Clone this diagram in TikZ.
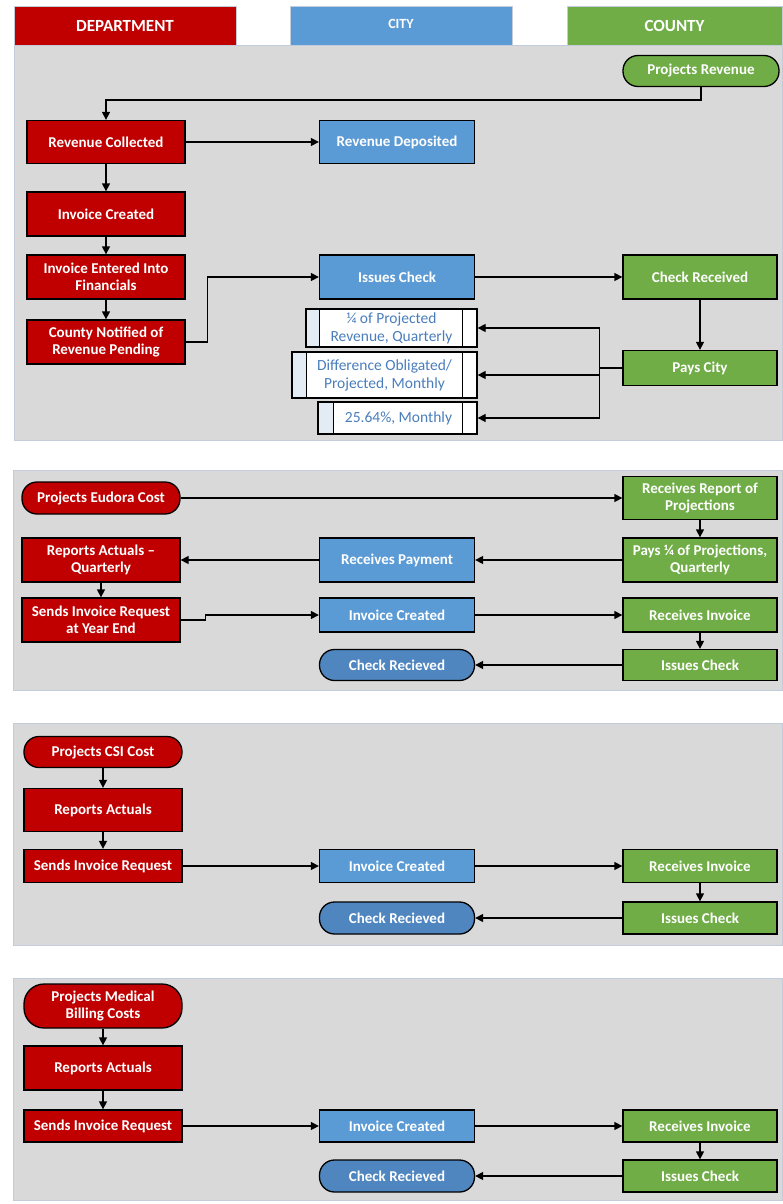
\documentclass[tikz,border=0pt]{standalone}
\usepackage{fontspec}
\setmainfont{Carlito}
\usetikzlibrary{arrows.meta,calc}
\definecolor{dred}{HTML}{C00000}
\definecolor{cblue}{HTML}{5B9BD5}
\definecolor{cgreen}{HTML}{70AD47}
\definecolor{pillblue}{HTML}{4F86C0}
\definecolor{panelgray}{HTML}{D9D9D9}
\definecolor{paneledge}{HTML}{C3CCDA}
\definecolor{txtblue}{HTML}{4A7EBB}
\definecolor{stripblue}{HTML}{E3EBF5}
\tikzset{
  box/.style={draw=black, line width=1.3pt, text=white, align=center, inner sep=0pt,
    font=\fontsize{15}{17}\selectfont\bfseries},
  deptbox/.style={box, fill=dred, minimum width=158pt},
  citybox/.style={box, fill=cblue, minimum width=155pt},
  cntybox/.style={box, fill=cgreen, minimum width=154pt},
  pill/.style={rounded corners=15pt},
  ppbox/.style={draw=black, line width=1.3pt, text=txtblue, align=center, inner sep=0pt,
    font=\fontsize{15.5}{18}\selectfont},
  hdr/.style={draw=paneledge, line width=0.6pt, text=white, inner sep=0pt,
    font=\fontsize{17}{19}\selectfont\bfseries},
  panel/.style={fill=panelgray, draw=paneledge, line width=0.8pt},
  arr/.style={draw=black, line width=1.3pt, -{Triangle[length=8pt,width=8pt]}},
  ln/.style={draw=black, line width=1.3pt},
}
\begin{document}
\begin{tikzpicture}[x=1pt,y=-1pt]
\useasboundingbox (0,0) rectangle (782,1204);
\fill[white] (0,0) rectangle (782,1204);
% headers
\node[hdr, fill=dred, minimum width=222pt, minimum height=39pt] (hd) at (125,25.5) {DEPARTMENT};
\node[hdr, fill=cblue, minimum width=222pt, minimum height=39pt, font=\fontsize{14}{16}\selectfont\bfseries] (hc) at (401,25.5) {\raisebox{3pt}{CITY}};
\node[hdr, fill=cgreen, minimum width=215pt, minimum height=39pt] (hy) at (674.5,25.5) {COUNTY};
% panels
\path[panel] (14,45) rectangle (782,440);
\path[panel] (13,470) rectangle (782,690);
\path[panel] (13,723) rectangle (782,945);
\path[panel] (13,978) rectangle (782,1200);

% ---------- panel 1
\node[cntybox, pill, minimum width=156pt, minimum height=31pt] (pr) at (701,71) {Projects Revenue};
\node[deptbox, minimum height=43pt] (rc) at (106,142) {Revenue Collected};
\node[citybox, minimum height=43pt] (rd) at (397,142) {Revenue Deposited};
\node[deptbox, minimum height=44pt] (ic1) at (106,214) {Invoice Created};
\node[deptbox, minimum height=44pt] (ief) at (106,277) {Invoice Entered Into\\Financials};
\node[deptbox, minimum height=44pt] (cn) at (106,342) {County Notified of\\Revenue Pending};
\node[citybox, minimum height=44pt] (is1) at (397,277) {Issues Check};
\node[cntybox, minimum height=44pt] (cr1) at (700,277) {Check Received};
\node[cntybox, minimum height=35pt] (pc) at (700,368) {Pays City};

\fill[white] (306,309) rectangle (477,347);
\fill[stripblue] (306,309) rectangle (320,347);
\fill[white] (292,352) rectangle (477,398);
\fill[stripblue] (292,352) rectangle (307,398);
\fill[white] (318,402) rectangle (477,434);
\fill[stripblue] (318,402) rectangle (334,434);
\node[ppbox, minimum width=171pt, minimum height=38pt] (b1) at (391.5,328) {\hspace*{0pt}¼ of Projected\\\hspace*{0pt}Revenue, Quarterly};
\node[ppbox, minimum width=185pt, minimum height=46pt] (b2) at (384.5,375) {Difference Obligated/\\Projected, Monthly};
\node[ppbox, minimum width=159pt, minimum height=32pt] (b3) at (397.5,418) {\hspace*{2pt}25.64\%, Monthly};
\draw[ln] ($(b1.north west)+(14,0)$) -- ($(b1.south west)+(14,0)$);
\draw[ln] ($(b1.north east)+(-15,0)$) -- ($(b1.south east)+(-15,0)$);
\draw[ln] ($(b2.north west)+(15,0)$) -- ($(b2.south west)+(15,0)$);
\draw[ln] ($(b2.north east)+(-15,0)$) -- ($(b2.south east)+(-15,0)$);
\draw[ln] ($(b3.north west)+(16,0)$) -- ($(b3.south west)+(16,0)$);
\draw[ln] ($(b3.north east)+(-15,0)$) -- ($(b3.south east)+(-15,0)$);

\draw[arr] (pr.south) -- ++(0,13) -| (rc.north);
\draw[arr] (rc.east) -- (rd.west);
\draw[arr] (rc.south) -- (ic1.north);
\draw[arr] (ic1.south) -- (ief.north);
\draw[arr] (ief.south) -- (cn.north);
\draw[arr] (cn.east) -- ++(22,0) |- (is1.west);
\draw[arr] (is1.east) -- (cr1.west);
\draw[arr] (cr1.south) -- (pc.north);
\draw[ln] (pc.west) -- ++(-23,0) coordinate (jn);
\draw[arr] (jn) |- (b1.east);
\draw[arr] (jn) |- (b2.east);
\draw[arr] (jn) |- (b3.east);

% ---------- panel 2
\node[deptbox, pill, minimum height=32pt] (pec) at (101,498) {Projects Eudora Cost};
\node[cntybox, minimum height=43pt] (rrp) at (700,498) {Receives Report of\\Projections};
\node[cntybox, minimum height=44pt] (p14) at (700,560) {Pays ¼ of Projections,\\Quarterly};
\node[citybox, minimum height=44pt] (rp) at (397,560) {Receives Payment};
\node[deptbox, minimum height=44pt] (ra2) at (101,560) {Reports Actuals --\\Quarterly};
\node[deptbox, minimum height=44pt] (sir2) at (101,620) {Sends Invoice Request\\at Year End};
\node[citybox, minimum height=34pt] (ic2) at (397,615) {Invoice Created};
\node[cntybox, minimum height=34pt] (ri2) at (700,615) {Receives Invoice};
\node[cntybox, minimum height=31pt] (isc2) at (700,665) {Issues Check};
\node[citybox, pill, fill=pillblue, minimum height=31pt] (ck2) at (397,665) {Check Recieved};
\draw[arr] (pec.east) -- (rrp.west);
\draw[arr] (rrp.south) -- (p14.north);
\draw[arr] (p14.west) -- (rp.east);
\draw[arr] (rp.west) -- (ra2.east);
\draw[arr] (ra2.south) -- (sir2.north);
\draw[arr] (sir2.east) -- ++(25,0) |- (ic2.west);
\draw[arr] (ic2.east) -- (ri2.west);
\draw[arr] (ri2.south) -- (isc2.north);
\draw[arr] (isc2.west) -- (ck2.east);

% ---------- panel 3
\node[deptbox, pill, minimum height=31pt] (pcsi) at (103,752) {Projects CSI Cost};
\node[deptbox, minimum height=43pt] (ra3) at (103,810) {Reports Actuals};
\node[deptbox, minimum height=33pt] (sir3) at (103,866) {Sends Invoice Request};
\node[citybox, minimum height=33pt] (ic3) at (397,866) {Invoice Created};
\node[cntybox, minimum height=33pt] (ri3) at (700,866) {Receives Invoice};
\node[cntybox, minimum height=32pt] (isc3) at (700,918) {Issues Check};
\node[citybox, pill, fill=pillblue, minimum height=32pt] (ck3) at (397,918) {Check Recieved};
\draw[arr] (pcsi.south) -- (ra3.north);
\draw[arr] (ra3.south) -- (sir3.north);
\draw[arr] (sir3.east) -- (ic3.west);
\draw[arr] (ic3.east) -- (ri3.west);
\draw[arr] (ri3.south) -- (isc3.north);
\draw[arr] (isc3.west) -- (ck3.east);

% ---------- panel 4
\node[deptbox, pill, rounded corners=20pt, minimum height=44pt] (pmb) at (103,1006) {Projects Medical\\Billing Costs};
\node[deptbox, minimum height=44pt] (ra4) at (103,1068) {Reports Actuals};
\node[deptbox, minimum height=32pt] (sir4) at (103,1126) {Sends Invoice Request};
\node[citybox, minimum height=32pt] (ic4) at (397,1126) {Invoice Created};
\node[cntybox, minimum height=32pt] (ri4) at (700,1126) {Receives Invoice};
\node[cntybox, minimum height=32pt] (isc4) at (700,1176) {Issues Check};
\node[citybox, pill, fill=pillblue, minimum height=32pt] (ck4) at (397,1176) {Check Recieved};
\draw[arr] (pmb.south) -- (ra4.north);
\draw[arr] (ra4.south) -- (sir4.north);
\draw[arr] (sir4.east) -- (ic4.west);
\draw[arr] (ic4.east) -- (ri4.west);
\draw[arr] (ri4.south) -- (isc4.north);
\draw[arr] (isc4.west) -- (ck4.east);
\end{tikzpicture}
\end{document}
